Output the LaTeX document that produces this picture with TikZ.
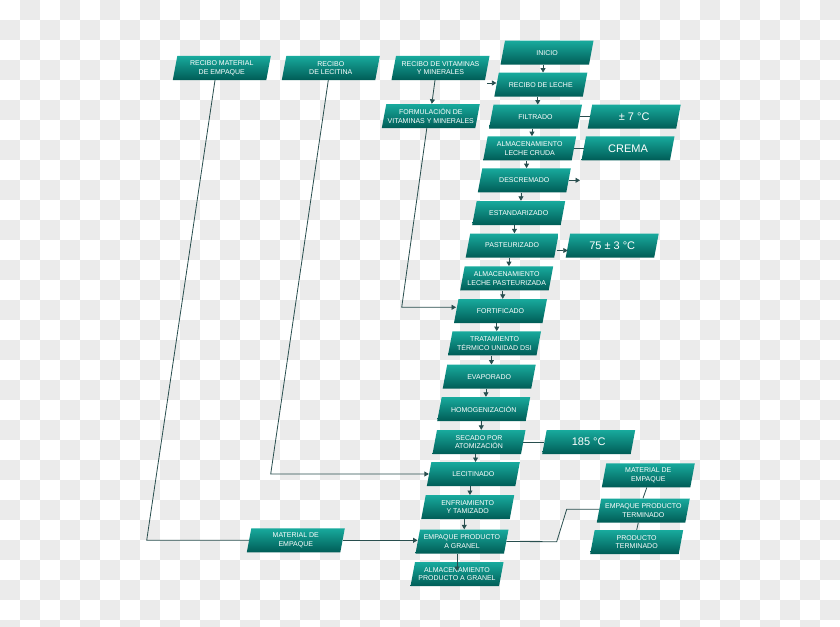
\documentclass[tikz,border=0pt]{standalone}
\usepackage{fontspec}
\setmainfont{Liberation Sans}
\usetikzlibrary{arrows.meta}
\definecolor{chk}{RGB}{235,235,235}
\definecolor{tealtop}{RGB}{24,170,157}
\definecolor{tealbot}{RGB}{0,92,86}
\definecolor{lc}{RGB}{40,78,78}
\tikzset{
  boxshade/.style={top color=tealtop, bottom color=tealbot, draw=none},
  boxnode/.style={rectangle, draw=none, minimum height=24pt, inner sep=0pt, text=white, align=center, font=\fontsize{7}{8.6}\selectfont},
  bigtext/.style={font=\fontsize{11}{13}\selectfont},
  arr/.style={draw=lc, line width=0.8pt, -{Triangle[length=4.5pt,width=5pt]}},
  ln/.style={draw=lc, line width=0.8pt},
}
% #1 extra style, #2 name, #3 centre, #4 width, #5 text
\newcommand\pbox[5][]{%
  \coordinate (#2c) at (#3);
  \pgfmathsetmacro\hw{#4/2}%
  \shade[boxshade] ([shift={(-\hw pt-2.25pt,-12pt)}]#2c) -- ([shift={(\hw pt-2.25pt,-12pt)}]#2c) -- ([shift={(\hw pt+2.25pt,12pt)}]#2c) -- ([shift={(-\hw pt+2.25pt,12pt)}]#2c) -- cycle;
  \node[boxnode,#1,minimum width=#4pt] (#2) at (#2c) {#5};
}
\newcommand\downarr[2]{\draw[arr] ([xshift=2.25pt]#2.north |- #1.south) -- ([xshift=2.25pt]#2.north);}
\begin{document}
\begin{tikzpicture}[x=1pt,y=-1pt]
\useasboundingbox (0,0) rectangle (840,626);
% checkerboard background
\fill[white] (0,0) rectangle (840,626);
\foreach \i in {0,...,41}{\foreach \j in {0,...,31}{%
  \pgfmathtruncatemacro\k{mod(\i+\j,2)}%
  \ifnum\k=1 \fill[chk] (\i*20,\j*20) rectangle ++(20,20);\fi}}
% top row
\pbox{rmat}{221.8,68}{93.5}{RECIBO MATERIAL\\DE EMPAQUE}
\pbox{rlec}{330.8,68}{93.5}{RECIBO\\DE LECITINA}
\pbox{rvit}{440.5,68}{93.5}{RECIBO DE VITAMINAS\\Y MINERALES}
\pbox{form}{430.8,116}{93.5}{FORMULACIÓN DE\\VITAMINAS Y MINERALES}
% main chain
\pbox{inicio}{547,52.7}{88.5}{INICIO}
\pbox{rleche}{540.8,84.7}{88.5}{RECIBO DE LECHE}
\pbox{filtrado}{535.5,116.7}{88.5}{FILTRADO}
\pbox[bigtext]{t7}{634.2,116.7}{88.5}{± 7 °C}
\pbox{almcruda}{529.7,148.3}{88.5}{ALMACENAMIENTO\\LECHE CRUDA}
\pbox[bigtext]{crema}{628,148.3}{88.5}{CREMA}
\pbox{descremado}{524.3,180.3}{88.5}{DESCREMADO}
\pbox{estandarizado}{518.7,213}{88.5}{ESTANDARIZADO}
\pbox{pasteurizado}{512.2,245.5}{88.5}{PASTEURIZADO}
\pbox[bigtext]{t75}{612.2,245.5}{88.5}{75 ± 3 °C}
\pbox{almpast}{506.7,278.3}{88.5}{ALMACENAMIENTO\\LECHE PASTEURIZADA}
\pbox{fortificado}{500.5,311}{88.5}{FORTIFICADO}
\pbox{tratamiento}{494.5,343.3}{88.5}{TRATAMIENTO\\TÉRMICO UNIDAD DSI}
\pbox{evaporado}{489.2,376.7}{88.5}{EVAPORADO}
\pbox{homog}{483.7,409}{88.5}{HOMOGENIZACIÓN}
\pbox{secado}{479,442}{88.5}{SECADO POR\\ATOMIZACIÓN}
\pbox[bigtext]{t185}{588.7,442}{88.5}{185 °C}
\pbox{lecitinado}{473.3,474.2}{88.5}{LECITINADO}
\pbox{enfriamiento}{467.7,507.2}{88.5}{ENFRIAMIENTO\\Y TAMIZADO}
\pbox{empgranel}{462,541.5}{88.5}{EMPAQUE PRODUCTO\\A GRANEL}
\pbox{almgranel}{457,574.2}{88.5}{ALMACENAMIENTO\\PRODUCTO A GRANEL}
% right group
\pbox{rmat2}{648.3,475.3}{88.5}{MATERIAL DE\\EMPAQUE}
\pbox{emppt}{643.3,510.5}{88.5}{EMPAQUE PRODUCTO\\TERMINADO}
\pbox{prodterm}{636.7,542}{88.5}{PRODUCTO\\TERMINADO}
% left material box
\pbox{lmat}{295.8,540.3}{93.5}{MATERIAL DE\\EMPAQUE}
% main chain arrows
\downarr{inicio}{rleche}
\downarr{rleche}{filtrado}
\downarr{filtrado}{almcruda}
\downarr{almcruda}{descremado}
\downarr{descremado}{estandarizado}
\downarr{estandarizado}{pasteurizado}
\downarr{pasteurizado}{almpast}
\downarr{almpast}{fortificado}
\downarr{fortificado}{tratamiento}
\downarr{tratamiento}{evaporado}
\downarr{evaporado}{homog}
\downarr{homog}{secado}
\downarr{secado}{lecitinado}
\downarr{lecitinado}{enfriamiento}
\downarr{enfriamiento}{empgranel}
% side links
\draw[ln] (filtrado.east) -- (t7.west);
\draw[ln] (almcruda.east) -- (crema.west);
\draw[ln] (secado.east) -- (t185.west);
\coordinate (dr) at (580,179);
\draw[arr] (descremado.east) -- (descremado.east -| dr);
\draw[arr] ([yshift=-5pt]pasteurizado.east) -- ([yshift=-5pt]pasteurizado.east -| t75.west);
\coordinate (lin) at (487,83);
\draw[arr] (lin) -- (lin -| rleche.west);
\draw[arr] ([xshift=-5.5pt]rvit.south) -- ([xshift=1pt]form.north);
% left feeds
\coordinate (cf) at (401.7,307.3);
\draw[arr] ([xshift=-4pt]form.south) -- (cf) -- (cf -| fortificado.west);
\coordinate (cl) at (270.7,474);
\draw[arr] ([xshift=-2.5pt]rlec.south) -- (cl) -- (cl -| lecitinado.west);
\coordinate (cm) at (146.7,540.3);
\draw[ln] ([xshift=-6.8pt]rmat.south) -- (cm) -- (cm -| lmat.west);
\draw[arr] (lmat.east) -- (lmat.east -| empgranel.west);
% bottom
\coordinate (ag) at (457,571);
\draw[arr] (empgranel.south -| ag) -- (ag);
\coordinate (p1) at (556.7,541.7);
\coordinate (p2) at (566.7,509.3);
\draw[ln] (empgranel.east) -- (p1) -- (p2) -- (p2 -| emppt.west);
\draw[ln] ([xshift=-1.5pt]rmat2.south) -- ([xshift=-0.3pt]emppt.north);
\draw[ln] ([xshift=-5pt]emppt.south) -- (prodterm.north);
\end{tikzpicture}
\end{document}
